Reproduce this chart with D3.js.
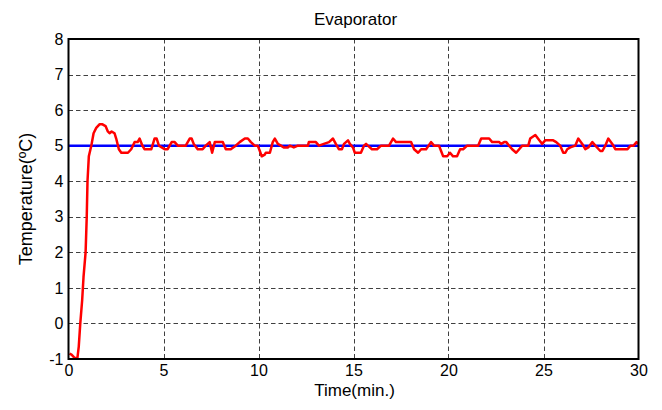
<!DOCTYPE html>
<html>
<head>
<meta charset="utf-8">
<script src="https://cdn.jsdelivr.net/npm/d3@7"></script>
<style>
  html, body { margin: 0; padding: 0; background: #fff; }
  svg { display: block; font-family: "Liberation Sans", Arial, sans-serif; }
</style>
</head>
<body>
<svg id="chart" width="662" height="410"></svg>
<script>
// Evaporator temperature response (time in minutes, temperature in °C)
const timeMin = [0.05, 0.16, 0.32, 0.47, 0.54, 0.62, 0.72, 0.79, 0.9, 0.96, 1.0, 1.07, 1.2, 1.32, 1.46, 1.63, 1.79, 1.95, 2.07, 2.16, 2.27, 2.42, 2.51, 2.65, 2.78, 3.13, 3.3, 3.48, 3.64, 3.74, 3.89, 4.0, 4.36, 4.53, 4.64, 4.76, 5.06, 5.22, 5.43, 5.59, 5.75, 6.17, 6.38, 6.48, 6.59, 6.8, 7.06, 7.22, 7.43, 7.56, 7.7, 8.12, 8.28, 8.54, 8.8, 9.01, 9.28, 9.44, 9.6, 9.8, 9.96, 10.07, 10.17, 10.33, 10.38, 10.6, 10.75, 10.86, 11.02, 11.18, 11.33, 11.54, 11.65, 11.86, 12.07, 12.6, 12.65, 13.02, 13.18, 13.44, 13.71, 13.92, 14.07, 14.23, 14.39, 14.5, 14.71, 14.81, 14.97, 15.07, 15.39, 15.55, 15.66, 15.76, 15.97, 16.24, 16.45, 16.87, 17.08, 17.24, 18.03, 18.19, 18.4, 18.56, 18.82, 19.08, 19.24, 19.5, 19.61, 19.72, 19.93, 20.08, 20.24, 20.45, 20.61, 20.77, 20.98, 21.56, 21.72, 22.14, 22.3, 22.67, 22.77, 22.93, 23.04, 23.19, 23.35, 23.56, 23.72, 23.88, 24.2, 24.3, 24.57, 24.78, 24.93, 25.09, 25.51, 25.67, 25.88, 26.04, 26.15, 26.25, 26.41, 26.67, 26.83, 27.04, 27.2, 27.36, 27.57, 27.73, 27.99, 28.1, 28.25, 28.41, 28.62, 28.78, 29.42, 29.57, 29.74, 29.9, 30.0];
const measuredTemp = [-0.85, -0.88, -0.97, -0.97, -0.65, 0.0, 0.66, 1.3, 2.0, 3.0, 4.0, 4.7, 5.0, 5.35, 5.5, 5.6, 5.6, 5.55, 5.4, 5.35, 5.4, 5.35, 5.2, 4.9, 4.8, 4.8, 4.9, 5.1, 5.1, 5.2, 5.0, 4.9, 4.9, 5.2, 5.2, 5.0, 4.9, 4.9, 5.1, 5.1, 5.0, 5.0, 5.2, 5.2, 5.05, 4.9, 4.9, 5.0, 5.1, 4.8, 5.1, 5.1, 4.9, 4.9, 5.0, 5.1, 5.2, 5.2, 5.1, 5.0, 5.0, 4.85, 4.7, 4.75, 4.8, 4.8, 5.1, 5.2, 5.05, 5.0, 4.95, 4.95, 5.0, 4.95, 5.0, 5.0, 5.1, 5.1, 5.0, 5.05, 5.1, 5.2, 5.05, 4.9, 4.9, 5.05, 5.15, 5.05, 4.95, 4.8, 4.8, 5.0, 5.05, 5.0, 4.9, 4.9, 5.0, 5.0, 5.2, 5.1, 5.1, 4.9, 4.8, 4.9, 4.9, 5.1, 5.0, 5.0, 4.85, 4.7, 4.7, 4.8, 4.7, 4.7, 4.9, 4.9, 5.0, 5.0, 5.2, 5.2, 5.1, 5.1, 5.05, 5.1, 5.1, 5.0, 4.9, 4.8, 4.9, 5.0, 5.0, 5.2, 5.3, 5.15, 5.05, 5.15, 5.15, 5.1, 5.0, 4.8, 4.8, 4.9, 4.95, 5.0, 5.2, 5.05, 4.9, 4.95, 5.1, 5.0, 4.85, 4.85, 5.0, 5.2, 5.05, 4.9, 4.9, 5.0, 5.0, 5.1, 5.05];
const setpoint = 5;
const xTicks = [0, 5, 10, 15, 20, 25, 30];
const yTicks = [-1, 0, 1, 2, 3, 4, 5, 6, 7, 8];

const svg = d3.select("#chart");
const margin = { left: 68.5, right: 662 - 638.5, top: 39, bottom: 410 - 359 };
const W = 662, H = 410;

const x = d3.scaleLinear().domain([0, 30]).range([margin.left, W - margin.right]);
const y = d3.scaleLinear().domain([-1, 8]).range([H - margin.bottom, margin.top]);

// dashed grid
const grid = svg.append("g").attr("stroke", "#404040").attr("stroke-width", 1)
  .attr("stroke-dasharray", "4.5,3");
grid.selectAll("line.v").data(xTicks.slice(1, -1)).join("line")
  .attr("x1", d => Math.round(x(d)) + 0.5).attr("x2", d => Math.round(x(d)) + 0.5)
  .attr("y1", y(8)).attr("y2", y(-1));
grid.selectAll("line.h").data(yTicks.slice(1, -1)).join("line")
  .attr("y1", d => Math.round(y(d)) + 0.5).attr("y2", d => Math.round(y(d)) + 0.5)
  .attr("x1", x(0)).attr("x2", x(30));

// setpoint
svg.append("line")
  .attr("x1", x(0)).attr("x2", x(30))
  .attr("y1", y(setpoint)).attr("y2", y(setpoint))
  .attr("stroke", "#0000ff").attr("stroke-width", 2.5);

// measured temperature
const pts = timeMin.map((t, i) => [t, measuredTemp[i]]);
svg.append("path")
  .datum(pts)
  .attr("fill", "none")
  .attr("stroke", "#ff0000")
  .attr("stroke-width", 2.5)
  .attr("stroke-linejoin", "round")
  .attr("d", d3.line().x(d => x(d[0])).y(d => y(d[1])));

// axes
const xAxis = svg.append("g").attr("transform", `translate(0,${y(-1)})`)
  .call(d3.axisBottom(x).tickValues(xTicks).tickSize(0).tickPadding(6));
const yAxis = svg.append("g").attr("transform", `translate(${x(0)},0)`)
  .call(d3.axisLeft(y).tickValues(yTicks).tickSize(0).tickPadding(5)
    .tickFormat(d => String(d)));
[xAxis, yAxis].forEach(a => {
  a.select(".domain").remove();
  a.selectAll("text").attr("font-size", 16).attr("fill", "#000")
    .attr("font-family", "Liberation Sans, Arial, sans-serif");
});

// frame
svg.append("rect")
  .attr("x", x(0)).attr("y", y(8))
  .attr("width", x(30) - x(0)).attr("height", y(-1) - y(8))
  .attr("fill", "none").attr("stroke", "#000").attr("stroke-width", 2);

// labels
svg.append("text").attr("x", (x(0) + x(30)) / 2 + 2).attr("y", 25)
  .attr("text-anchor", "middle").attr("font-size", 17).text("Evaporator");
svg.append("text").attr("x", (x(0) + x(30)) / 2 + 1).attr("y", 396)
  .attr("text-anchor", "middle").attr("font-size", 17).text("Time(min.)");
svg.append("text")
  .attr("transform", `translate(32,${(y(8) + y(-1)) / 2}) rotate(-90)`)
  .attr("text-anchor", "middle").attr("font-size", 18)
  .text("Temperature(ºC)");
</script>
</body>
</html>
